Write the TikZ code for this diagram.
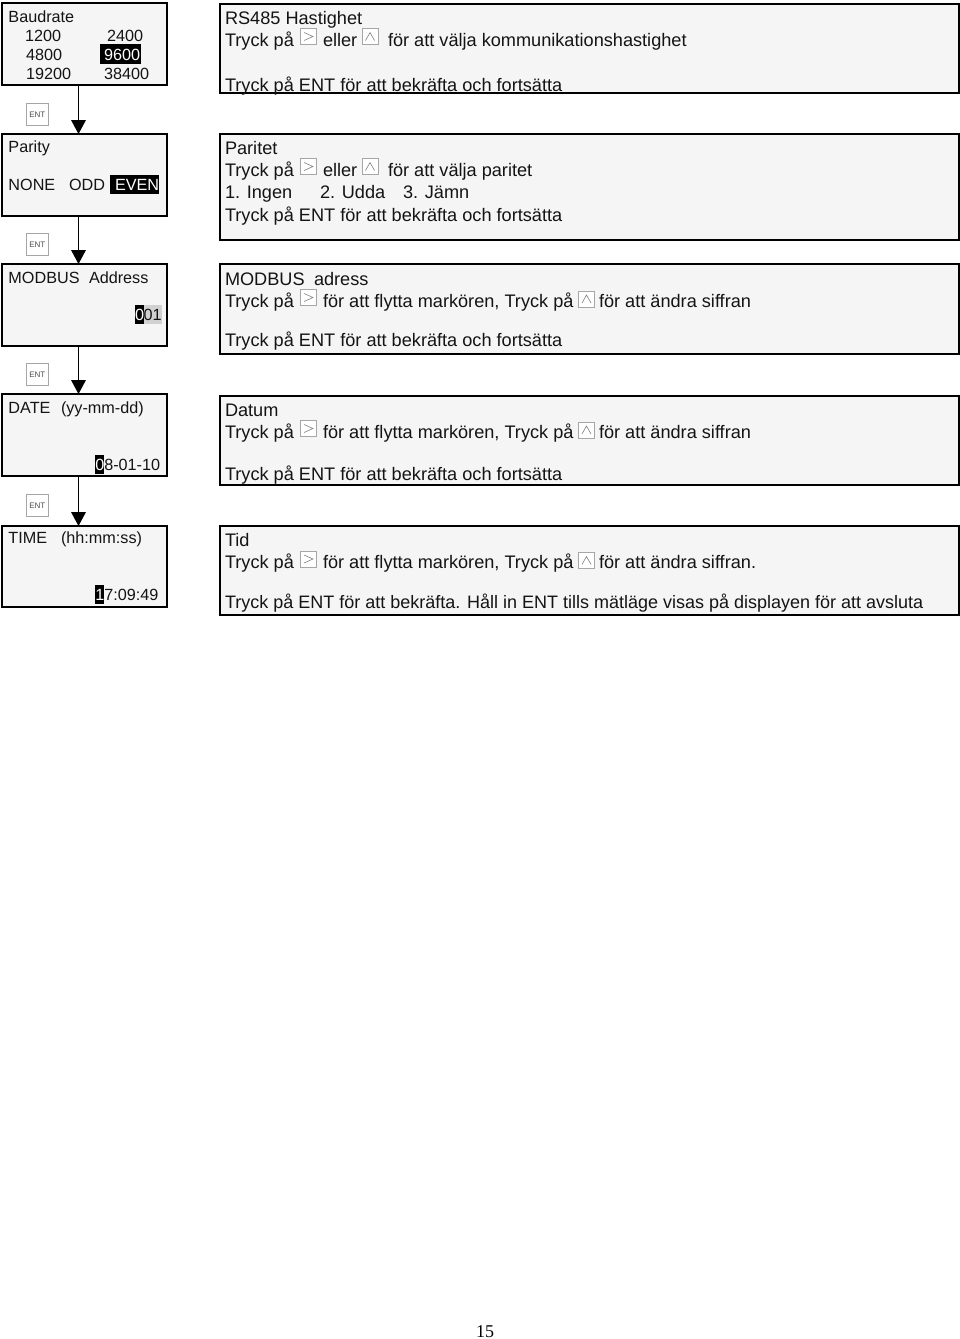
\documentclass[tikz,border=0pt]{standalone}
\usepackage{fontspec}
\setmainfont{Liberation Sans}
\newfontfamily\pagefont{Liberation Serif}
\usetikzlibrary{calc}
\tikzset{x=1pt,y=-1pt,
 panel/.style={draw=black,line width=1.6pt,fill=black!4},
 txt/.style={anchor=base west,inner sep=0pt,outer sep=0pt,font=\fontsize{18.15}{20}\selectfont,text=black!92},
 disp/.style={txt,font=\fontsize{16.2}{20}\selectfont},
 inv/.style={disp,text=white},
 btn/.style={draw=black!35,line width=.7pt,fill=white},
 flow/.style={draw=black,line width=1.5pt},
 headfill/.style={fill=black}}
\newcommand{\keybtn}[3]{% x,y,kind
 \draw[btn] (#1,#2) rectangle ++(16,16);
 \ifnum#3=0
  \draw[black!50,line width=.6pt] (#1+3.5,#2+4) -- (#1+12.5,#2+8) -- (#1+3.5,#2+12);
 \else
  \draw[black!50,line width=.6pt] (#1+3.5,#2+12) -- (#1+8,#2+4) -- (#1+12.5,#2+12);
 \fi}
\begin{document}
\begin{tikzpicture}
\useasboundingbox (0,0) rectangle (960,1339);
% left display boxes
\path[panel] (2,3) rectangle (167,85);
\path[panel] (2,134) rectangle (167,216);
\path[panel] (2,264) rectangle (167,346);
\path[panel] (2,394) rectangle (167,476);
\path[panel] (2,526) rectangle (167,607);
\coordinate (la) at (78.5,85);   \coordinate (lbt) at (78.5,134);
\coordinate (lb) at (78.5,216);  \coordinate (lct) at (78.5,264);
\coordinate (lc) at (78.5,347);  \coordinate (ldt) at (78.5,394);
\coordinate (ld) at (78.5,476);  \coordinate (let) at (78.5,526);
% connectors
\foreach \s/\t in {la/lbt,lb/lct,lc/ldt,ld/let}{
 \draw[flow] (\s) -- ($(\t)+(0,-10)$);
 \fill[headfill] (\t) -- ++(-7.5,-14) -- ++(15,0) -- cycle;}
% ENT keys
\foreach \y in {103,233,363,494}{
 \node[btn,minimum width=22pt,minimum height=22pt,inner sep=0pt,anchor=north west,font=\fontsize{8}{9}\selectfont,text=black!70] (ent\y) at (26,\y) {ENT};}
% right boxes
\path[panel] (220,4) rectangle (959,93);
\path[panel] (220,134) rectangle (959,240);
\path[panel] (220,264) rectangle (959,354);
\path[panel] (220,396) rectangle (959,485);
\path[panel] (220,526) rectangle (959,615);
% left texts
\node[disp] (a1) at (8.5,22) {Baudrate};
\node[disp] (a2) at (25,41) {1200};
\node[disp] (a3) at (107,41) {2400};
\node[disp] (a4) at (26,60) {4800};
\fill[black] (100,44) rectangle (141,64);
\node[inv] (a5) at (104,60) {9600};
\node[disp] (a6) at (26,79) {19200};
\node[disp] (a7) at (104,79) {38400};
\node[disp] (b1) at (8.5,152) {Parity};
\node[disp] (b2) at (8.5,190) {NONE};
\node[disp] (b3) at (69,190) {ODD};
\fill[black] (110,175) rectangle (159,194);
\node[inv] (b4) at (115,190) {EVEN};
\node[disp] (c1) at (8.5,283) {MODBUS};
\node[disp] (c2) at (89,283) {Address};
\fill[black!18] (143,305) rectangle (162,324);
\fill[black] (134.5,305) rectangle (143.5,324);
\node[inv] (c3) at (135,320) {0};
\node[disp] (c4) at (143.5,320) {01};
\node[disp] (d1) at (8.5,413) {DATE};
\node[disp] (d2) at (61,413) {(yy-mm-dd)};
\fill[black] (95,455) rectangle (104,474);
\node[inv] (d3) at (95.3,470) {0};
\node[disp] (d4) at (104.3,470) {8-01-10};
\node[disp] (e1) at (8.5,543) {TIME};
\node[disp] (e2) at (61,543) {(hh:mm:ss)};
\fill[black] (95,585) rectangle (104,604);
\node[inv] (e3) at (95.3,600) {1};
\node[disp] (e4) at (104.3,600) {7:09:49};
% right texts
\node[txt] (r1) at (225,24) {RS485 Hastighet};
\node[txt] (r2) at (225,46) {Tryck på};
\keybtn{300.5}{28.5}{0}
\node[txt] (r3) at (323,46) {eller};
\keybtn{362}{28.5}{1}
\node[txt] (r4) at (388,46) {för att välja kommunikationshastighet};
\node[txt] (r5) at (225,91) {Tryck på ENT för att bekräfta och fortsätta};
\node[txt] (s1) at (225,154) {Paritet};
\node[txt] (s2) at (225,176) {Tryck på};
\keybtn{300.5}{158.5}{0}
\node[txt] (s3) at (323,176) {eller};
\keybtn{362}{158.5}{1}
\node[txt] (s4) at (388,176) {för att välja paritet};
\node[txt] (s5) at (225,198.5) {1. Ingen};
\node[txt] (s6) at (320,198.5) {2. Udda};
\node[txt] (s7) at (403,198.5) {3. Jämn};
\node[txt] (s8) at (225,221) {Tryck på ENT för att bekräfta och fortsätta};
\node[txt] (t1) at (225,285) {MODBUS};
\node[txt] (t2) at (314,285) {adress};
\node[txt] (t3) at (225,307) {Tryck på};
\keybtn{300.5}{289.5}{0}
\node[txt] (t4) at (323,307) {för att flytta markören, Tryck på};
\keybtn{578.5}{291}{1}
\node[txt] (t5) at (599,307) {för att ändra siffran};
\node[txt] (t6) at (225,346) {Tryck på ENT för att bekräfta och fortsätta};
\node[txt] (u1) at (225,416) {Datum};
\node[txt] (u2) at (225,438) {Tryck på};
\keybtn{300.5}{420.5}{0}
\node[txt] (u3) at (323,438) {för att flytta markören, Tryck på};
\keybtn{578.5}{422}{1}
\node[txt] (u4) at (599,438) {för att ändra siffran};
\node[txt] (u5) at (225,480) {Tryck på ENT för att bekräfta och fortsätta};
\node[txt] (v1) at (225,546) {Tid};
\node[txt] (v2) at (225,568.5) {Tryck på};
\keybtn{300.5}{551}{0}
\node[txt] (v3) at (323,568.5) {för att flytta markören, Tryck på};
\keybtn{578.5}{552.5}{1}
\node[txt] (v4) at (599,568.5) {för att ändra siffran.};
\node[txt,font=\fontsize{18}{20}\selectfont] (v5) at (225,608) {Tryck på ENT för att bekräfta. Håll in ENT tills mätläge visas på displayen för att avsluta};
\node[anchor=base,inner sep=0pt,font=\pagefont\fontsize{18}{20}\selectfont] (pg) at (485,1337) {15};
\end{tikzpicture}
\end{document}
